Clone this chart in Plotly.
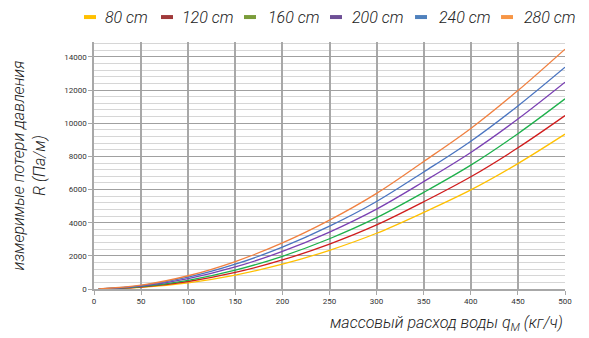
import plotly.graph_objects as go

x_vals = [5, 50, 100, 150, 200, 250, 300, 350, 400, 450, 500]
series_names = ["80 cm", "120 cm", "160 cm", "200 cm", "240 cm", "280 cm"]
y_80 = [1, 93, 374, 841, 1494, 2335, 3362, 4620, 5978, 7565, 9340]
y_120 = [2, 117, 453, 1000, 1752, 2708, 3863, 5260, 6770, 8517, 10460]
y_160 = [2, 138, 522, 1137, 1975, 3032, 4301, 5830, 7473, 9370, 11470]
y_200 = [3, 172, 625, 1328, 2268, 3436, 4822, 6480, 8234, 10250, 12470]
y_240 = [3, 203, 715, 1496, 2525, 3791, 5281, 7060, 8915, 11045, 13380]
y_280 = [4, 229, 799, 1657, 2781, 4156, 5769, 7690, 9683, 11970, 14470]
all_y = [y_80, y_120, y_160, y_200, y_240, y_280]

line_colors = ["#ffc000", "#d01c1c", "#1db04b", "#7a40b3", "#4a74c0", "#f08040"]
legend_colors = ["#ffc000", "#a0393a", "#7a9c3a", "#6e4f96", "#4f81bd", "#f79646"]

# legend key placement (paper coordinates)
key_centers = [-0.0085, 0.155, 0.3312, 0.5138, 0.6943, 0.8769]
key_text_x = [0.0191, 0.1826, 0.3652, 0.5435, 0.7282, 0.9087]
key_y = 1.101
key_half = 0.0127

FONT = "Roboto, Liberation Sans, Arial, sans-serif"
title_font = dict(family=FONT, size=16, style="italic", weight=300, color="#222")

fig = go.Figure()
for name, ys, c in zip(series_names, all_y, line_colors):
    fig.add_trace(go.Scatter(x=x_vals, y=ys, mode="lines", name=name,
                             line=dict(color=c, width=1.3, shape="spline"),
                             showlegend=False, hoverinfo="skip"))

annotations = []
shapes = []
for name, c, cx, tx in zip(series_names, legend_colors, key_centers, key_text_x):
    shapes.append(dict(type="line", xref="paper", yref="paper",
                       x0=cx - key_half, x1=cx + key_half, y0=key_y, y1=key_y,
                       line=dict(color=c, width=4)))
    annotations.append(dict(text=name, xref="paper", yref="paper", x=tx, y=key_y,
                            xanchor="left", yanchor="middle", showarrow=False,
                            font=title_font))
annotations.append(dict(text="массовый расход воды q<sub>M</sub> (кг/ч)",
                        xref="paper", yref="paper", x=1.0, y=-0.138,
                        xanchor="right", yanchor="middle", showarrow=False,
                        font=title_font))

fig.update_layout(
    width=589, height=338,
    margin=dict(l=86, r=32, t=34, b=57, autoexpand=False),
    paper_bgcolor="white", plot_bgcolor="white",
    font=dict(family=FONT, color="#222"),
    showlegend=False,
    annotations=annotations,
    shapes=shapes,
)

fig.update_xaxes(range=[0, 500], dtick=50, tick0=0, automargin=False,
                 showgrid=True, gridcolor="#a8a8a8", gridwidth=1.5,
                 showline=True, linecolor="#a8a8a8", linewidth=1.5,
                 ticks="outside", ticklen=4, tickcolor="#a8a8a8",
                 tickfont=dict(size=8, color="#333"), zeroline=False)
fig.update_yaxes(range=[0, 14900], dtick=2000, tick0=0, tickformat="d", automargin=False,
                 showgrid=True, gridcolor="#a0a0a0", gridwidth=1.2,
                 minor=dict(dtick=400, showgrid=True, gridcolor="#d6d6d6", gridwidth=1.2),
                 showline=True, linecolor="#a8a8a8", linewidth=1.5,
                 ticks="outside", ticklen=4, tickcolor="#a8a8a8",
                 tickfont=dict(size=8, color="#333"), zeroline=False,
                 title=dict(text="измеримые потери давления<br>R (Па/м)",
                            standoff=15, font=title_font))

fig.write_html("out.html")
